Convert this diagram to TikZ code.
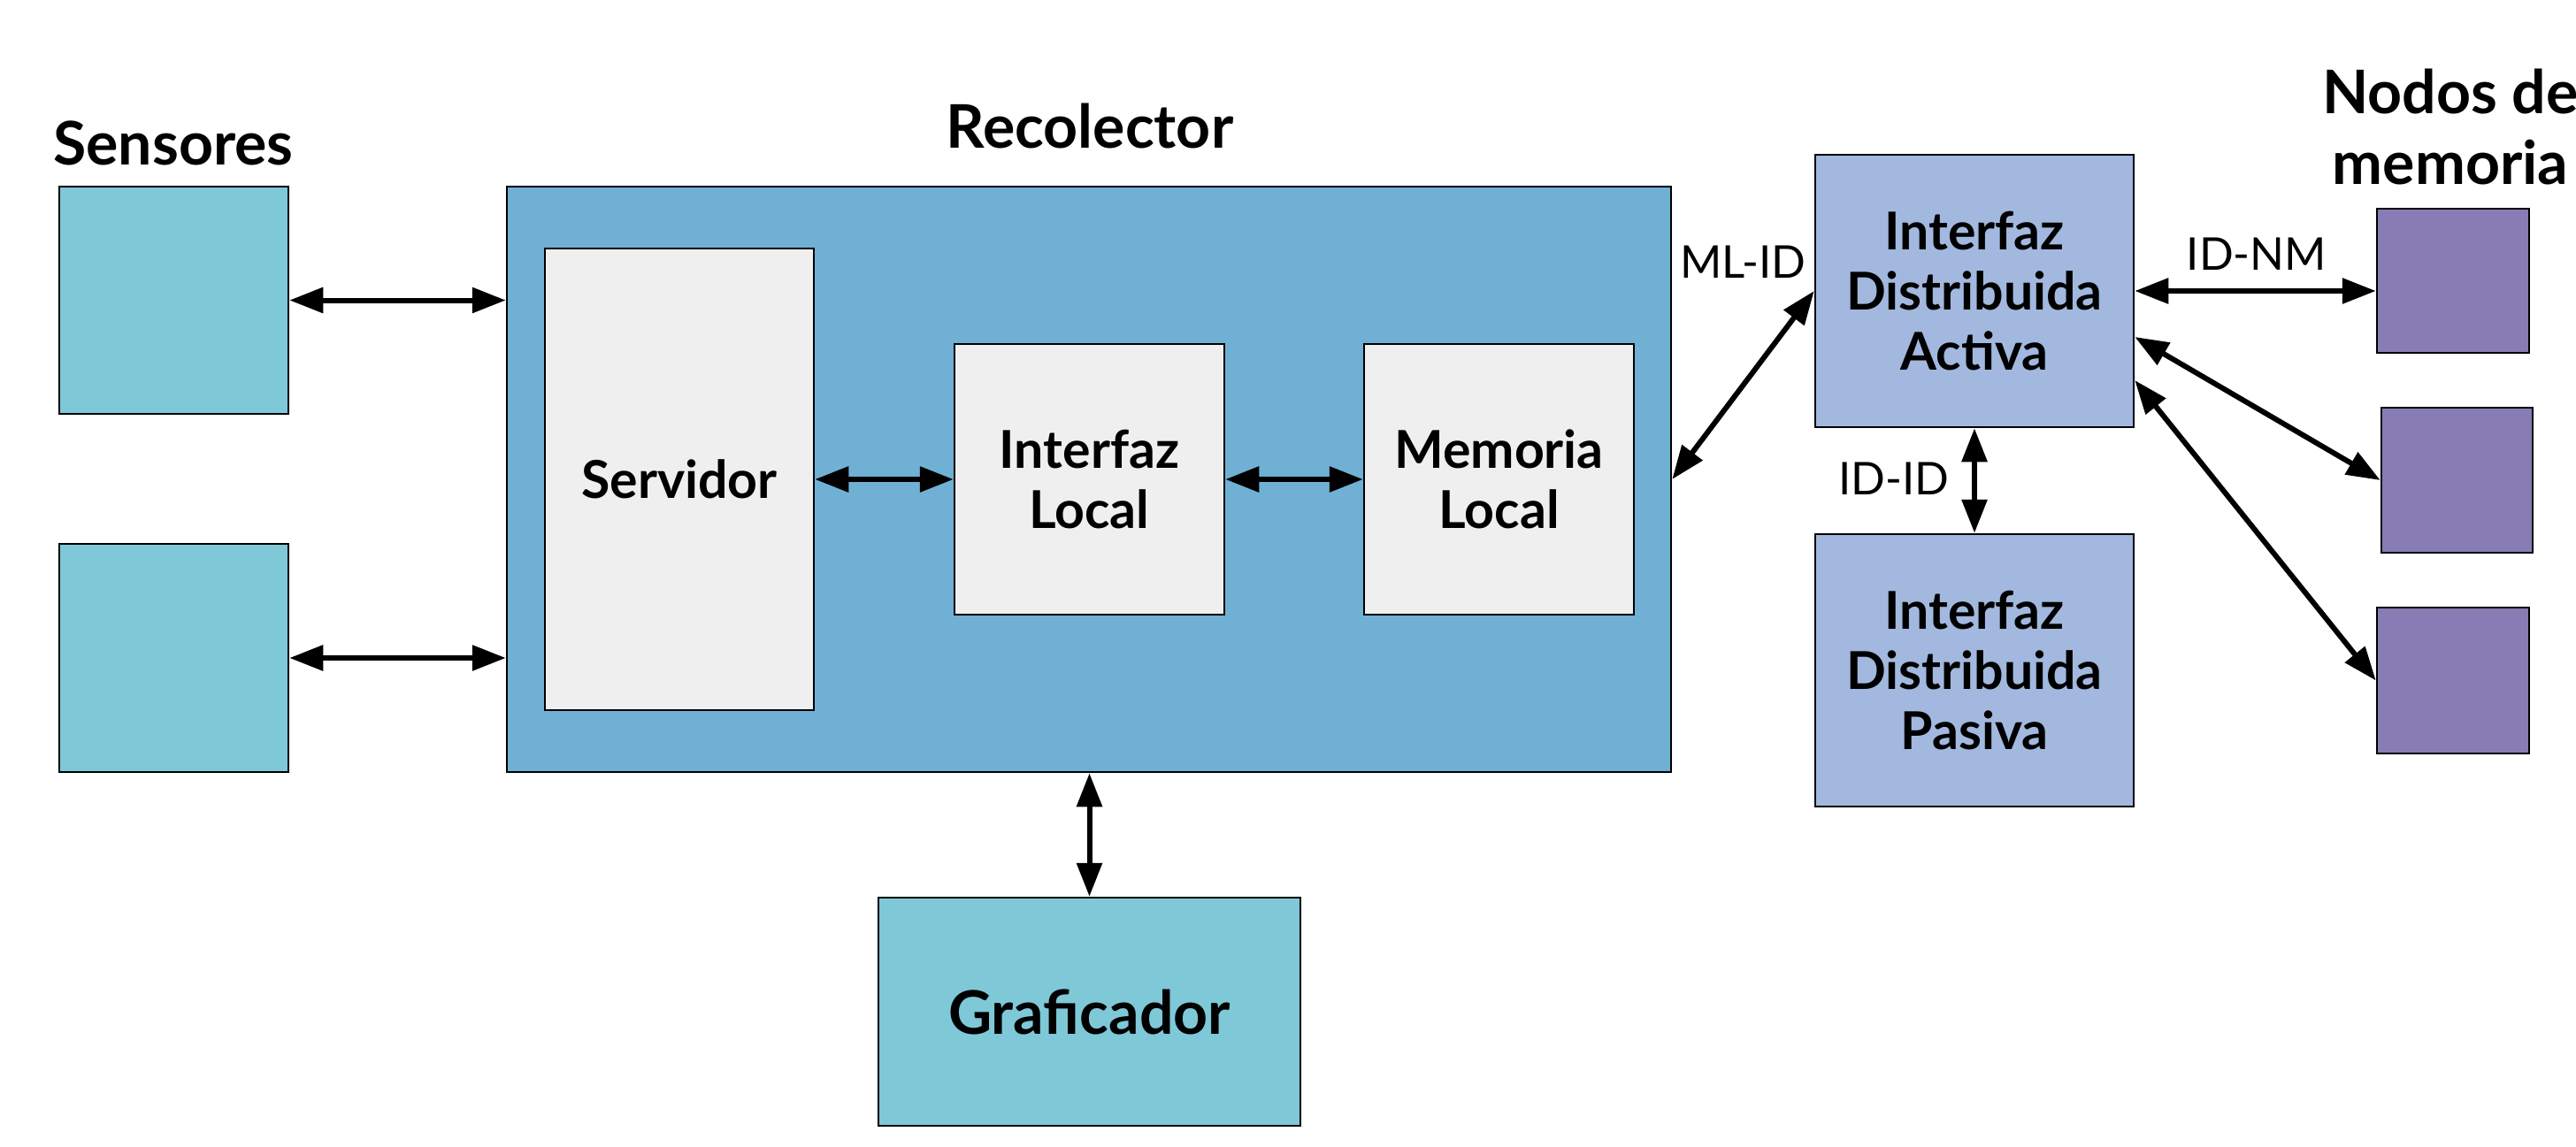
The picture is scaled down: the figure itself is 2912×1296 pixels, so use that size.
\documentclass[tikz,border=0pt]{standalone}
\usepackage{fontspec}
\setmainfont{Lato}
\usetikzlibrary{arrows.meta,calc}
\definecolor{sensc}{HTML}{7FC8D8}
\definecolor{recc}{HTML}{6FB0D4}
\definecolor{innc}{HTML}{EFEFEF}
\definecolor{distc}{HTML}{A2B8DE}
\definecolor{nmc}{HTML}{877CB4}
\tikzset{
  box/.style={draw=black, line width=2.5pt, inner sep=0pt, align=center,
    font=\bfseries\fontsize{59}{68}\selectfont},
  sensbox/.style={box, fill=sensc},
  recbox/.style={box, fill=recc},
  innbox/.style={box, fill=innc},
  distbox/.style={box, fill=distc},
  nmbox/.style={box, fill=nmc},
  ttl/.style={inner sep=0pt, align=center, font=\bfseries\fontsize{68}{80}\selectfont},
  lbl/.style={inner sep=0pt, font=\fontsize{51}{60}\selectfont},
  biarrow/.style={line width=6pt,
    {Triangle[length=38pt,width=28pt]}-{Triangle[length=38pt,width=28pt]}},
}
\begin{document}
\begin{tikzpicture}[x=1pt,y=-1pt]
\useasboundingbox (0,0) rectangle (2912,1296);
% boxes
\node[sensbox, minimum width=259pt, minimum height=257pt] (s1) at (196.5,339.5) {};
\node[sensbox, minimum width=259pt, minimum height=258pt] (s2) at (196.5,744) {};
\node[recbox, minimum width=1316pt, minimum height=662pt] (rec) at (1231,542) {};
\node[innbox, minimum width=304pt, minimum height=522pt] (srv) at (768,542) {Servidor};
\node[innbox, minimum width=305pt, minimum height=306pt] (il) at (1231.5,542) {Interfaz\\Local};
\node[innbox, minimum width=305pt, minimum height=306pt] (ml) at (1694.5,542) {Memoria\\Local};
\node[sensbox, minimum width=477pt, minimum height=258pt,
  font=\bfseries\fontsize{68}{78}\selectfont] (gra) at (1231.5,1144) {Graficador};
\node[distbox, minimum width=360pt, minimum height=308pt] (ida) at (2232,329) {Interfaz\\Distribuida\\Activa};
\node[distbox, minimum width=360pt, minimum height=308pt] (idp) at (2232,758) {Interfaz\\Distribuida\\Pasiva};
\node[nmbox, minimum width=172pt, minimum height=163pt] (nm1) at (2773,317.5) {};
\node[nmbox, minimum width=171pt, minimum height=164pt] (nm2) at (2777.5,543) {};
\node[nmbox, minimum width=172pt, minimum height=165pt] (nm3) at (2773,769.5) {};
% titles
\node[ttl, anchor=base] (tsen) at (196,186) {Sensores};
\node[ttl, anchor=base] (trec) at (1232,167) {Recolector};
\node[ttl, anchor=base] (tnm) at (2770,208) {Nodos de\\memoria};
% labels
\node[lbl] (lmlid) at (1970,296) {ML-ID};
\node[lbl] (lidnm) at (2551,287) {ID-NM};
\node[lbl] (lidid) at (2141,541) {ID-ID};
% connectors
\draw[biarrow] (s1.east) -- (s1.east -| rec.west);
\draw[biarrow] (s2.east) -- (s2.east -| rec.west);
\draw[biarrow] (srv.east) -- (il.west);
\draw[biarrow] (il.east) -- (ml.west);
\draw[biarrow] (rec.south -| gra.north) -- (gra.north);
\draw[biarrow] (rec.east) -- (ida.west);
\draw[biarrow] (ida.south) -- (idp.north);
\draw[biarrow] (ida.east) -- (ida.east -| nm1.west);
\draw[biarrow] ($(ida.east)+(0,52)$) -- (nm2.west);
\draw[biarrow] ($(ida.east)+(0,101)$) -- (nm3.west);
\end{tikzpicture}
\end{document}
